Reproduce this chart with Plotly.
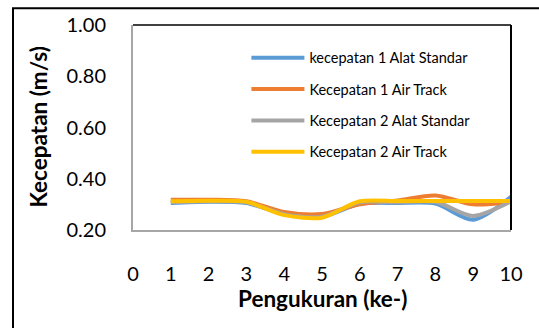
import plotly.graph_objects as go

# Measurement index (x) and the four velocity series (m/s)
pengukuran = [1, 2, 3, 4, 5, 6, 7, 8, 9, 10]
v1_alat_standar = [0.305, 0.310, 0.305, 0.262, 0.252, 0.302, 0.305, 0.303, 0.240, 0.330]
v1_air_track = [0.318, 0.318, 0.312, 0.270, 0.262, 0.300, 0.315, 0.335, 0.300, 0.310]
v2_alat_standar = [0.308, 0.312, 0.308, 0.262, 0.252, 0.308, 0.308, 0.310, 0.255, 0.312]
v2_air_track = [0.312, 0.314, 0.310, 0.258, 0.248, 0.312, 0.313, 0.313, 0.313, 0.313]

series_names = ["kecepatan 1 Alat Standar", "Kecepatan 1 Air Track",
                "Kecepatan 2 Alat Standar", "Kecepatan 2 Air Track"]
series_values = [v1_alat_standar, v1_air_track, v2_alat_standar, v2_air_track]
series_colors = ["#5B9BD5", "#ED7D31", "#A5A5A5", "#FFC000"]

x_ticks = list(range(0, 11))
y_ticks = [0.2, 0.4, 0.6, 0.8, 1.0]

FONT = "Lato"

fig = go.Figure()
for name, vals, col in zip(series_names, series_values, series_colors):
    fig.add_trace(go.Scatter(
        x=pengukuran, y=vals, name=name, mode="lines",
        line=dict(color=col, width=4, shape="spline", smoothing=0.8),
        legendgroup=name,
    ))

fig.update_layout(
    width=539, height=328,
    margin=dict(l=133, r=28, t=22, b=98),
    paper_bgcolor="white", plot_bgcolor="white",
    font=dict(family=FONT, color="black"),
    showlegend=True,
    legend=dict(
        x=0.30, y=0.918, xanchor="left", yanchor="top",
        bgcolor="rgba(0,0,0,0)", font=dict(size=14.5, family=FONT),
        itemwidth=53, tracegroupgap=9.5, traceorder="grouped",
    ),
    xaxis=dict(
        range=[0, 10], tickvals=x_ticks, ticktext=[str(t) for t in x_ticks],
        showgrid=False, zeroline=False, showline=True, linecolor="#A6A6A6",
        linewidth=2, ticks="", ticklabelstandoff=25,
        tickfont=dict(size=20, family=FONT),
    ),
    yaxis=dict(
        range=[0.2, 1.0], tickvals=y_ticks, tickformat=".2f",
        showgrid=False, zeroline=False, showline=True, linecolor="#A6A6A6",
        linewidth=2, ticks="", ticklabelstandoff=21,
        tickfont=dict(size=20, family=FONT),
    ),
)

# Axis titles
fig.add_annotation(text="<b>Pengukuran (ke-)</b>", xref="paper", yref="paper",
                   x=0.5, y=(230 - 300) / 208, showarrow=False,
                   font=dict(size=22.5, family=FONT), xanchor="center", yanchor="middle")
fig.add_annotation(text="<b>Kecepatan (m/s)</b>", xref="paper", yref="paper",
                   x=(38 - 133) / 378, y=0.5, textangle=-90, showarrow=False,
                   font=dict(size=22.5, family=FONT), xanchor="center", yanchor="middle")

# Plot frame: dark top and right edges
fig.add_shape(type="line", xref="paper", yref="paper", x0=0, x1=1, y0=1, y1=1,
              line=dict(color="black", width=1.5))
fig.add_shape(type="line", xref="paper", yref="paper", x0=1, x1=1, y0=0, y1=1,
              line=dict(color="black", width=2))

# Outer chart border
fig.add_shape(type="rect", xref="paper", yref="paper",
              x0=(13 - 133) / 378, x1=(541 - 133) / 378,
              y0=(230 - 340) / 208, y1=(230 - 5) / 208,
              line=dict(color="black", width=2))

fig.write_html("out.html")
